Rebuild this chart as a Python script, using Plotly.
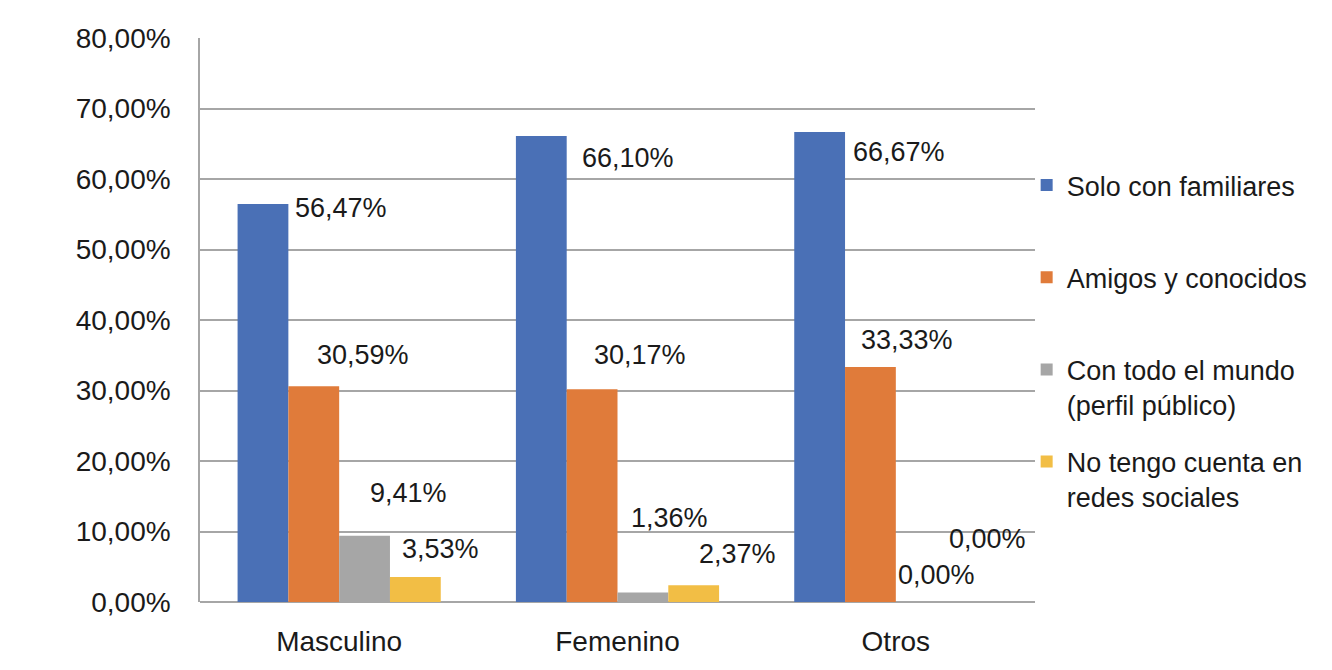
import plotly.graph_objects as go

categories = ["Masculino", "Femenino", "Otros"]
series_names = [
    "Solo con familiares",
    "Amigos y conocidos",
    "Con todo el mundo<br>(perfil público)",
    "No tengo cuenta en<br>redes sociales",
]
solo_familiares = [56.47, 66.10, 66.67]
amigos_conocidos = [30.59, 30.17, 33.33]
todo_el_mundo = [9.41, 1.36, 0.00]
sin_cuenta = [3.53, 2.37, 0.00]
series_values = [solo_familiares, amigos_conocidos, todo_el_mundo, sin_cuenta]
y_tick_vals = [0, 10, 20, 30, 40, 50, 60, 70, 80]

colors = ["#4A70B6", "#E07B3A", "#A6A6A6", "#F2BE45"]
FONT = "Liberation Sans"
TXT = "#1a1a1a"

# label offsets (pixels) from category centre / bar top, mimicking manual label placement
label_shift = [
    [(2, -4), (10, -22), (3, -20)],
    [(24, 31), (22, 34), (11, 27)],
    [(69, 43), (52, 74), (92, 63)],
    [(101, 28), (120, 31), (41, 27)],
]

fig = go.Figure()
for i, (name, vals) in enumerate(zip(series_names, series_values)):
    legend_name = name if "<br>" in name else name + "<br> "
    fig.add_trace(go.Bar(
        x=categories,
        y=[v / 100 for v in vals],
        name=legend_name,
        legendgroup=f"g{i}",
        marker=dict(color=colors[i], line=dict(width=0)),
        hovertemplate=name.replace("<br>", " ") + ": %{y:.2%}<extra>%{x}</extra>",
    ))

annotations = []
for i, vals in enumerate(series_values):
    for j, (cat, v) in enumerate(zip(categories, vals)):
        dx, dy = label_shift[i][j]
        annotations.append(dict(
            x=cat, y=v / 100, xref="x", yref="y",
            text=f"{v:.2f}".replace(".", ",") + "%",
            showarrow=False,
            xshift=dx, yshift=dy,
            font=dict(family=FONT, size=27, color=TXT),
        ))

fig.update_layout(
    width=1332, height=670,
    margin=dict(l=192, r=305, t=30, b=76),
    paper_bgcolor="white", plot_bgcolor="white",
    separators=",.",
    barmode="group",
    bargap=0.27,
    bargroupgap=0,
    font=dict(family=FONT, size=27, color=TXT),
    showlegend=True,
    legend=dict(
        x=0.99, xanchor="left", y=0.782, yanchor="top",
        traceorder="grouped", tracegroupgap=19,
        valign="top",
        font=dict(family=FONT, size=27, color=TXT),
        bgcolor="rgba(0,0,0,0)", borderwidth=0,
    ),
    annotations=annotations,
    xaxis=dict(
        showgrid=False, showline=False, ticks="",
        ticklabelstandoff=20,
        tickfont=dict(family=FONT, size=28, color=TXT),
    ),
    yaxis=dict(
        range=[0, 0.8], tickvals=[v / 100 for v in y_tick_vals], tickformat=".2%",
        showgrid=True, gridcolor="#A6A6A6", gridwidth=1.5,
        showline=True, linecolor="#A6A6A6", linewidth=1.5,
        zeroline=True, zerolinecolor="#A6A6A6", zerolinewidth=1.5,
        ticks="", ticklabelstandoff=22,
        tickfont=dict(family=FONT, size=28, color=TXT),
    ),
)

fig.write_html("out.html")
